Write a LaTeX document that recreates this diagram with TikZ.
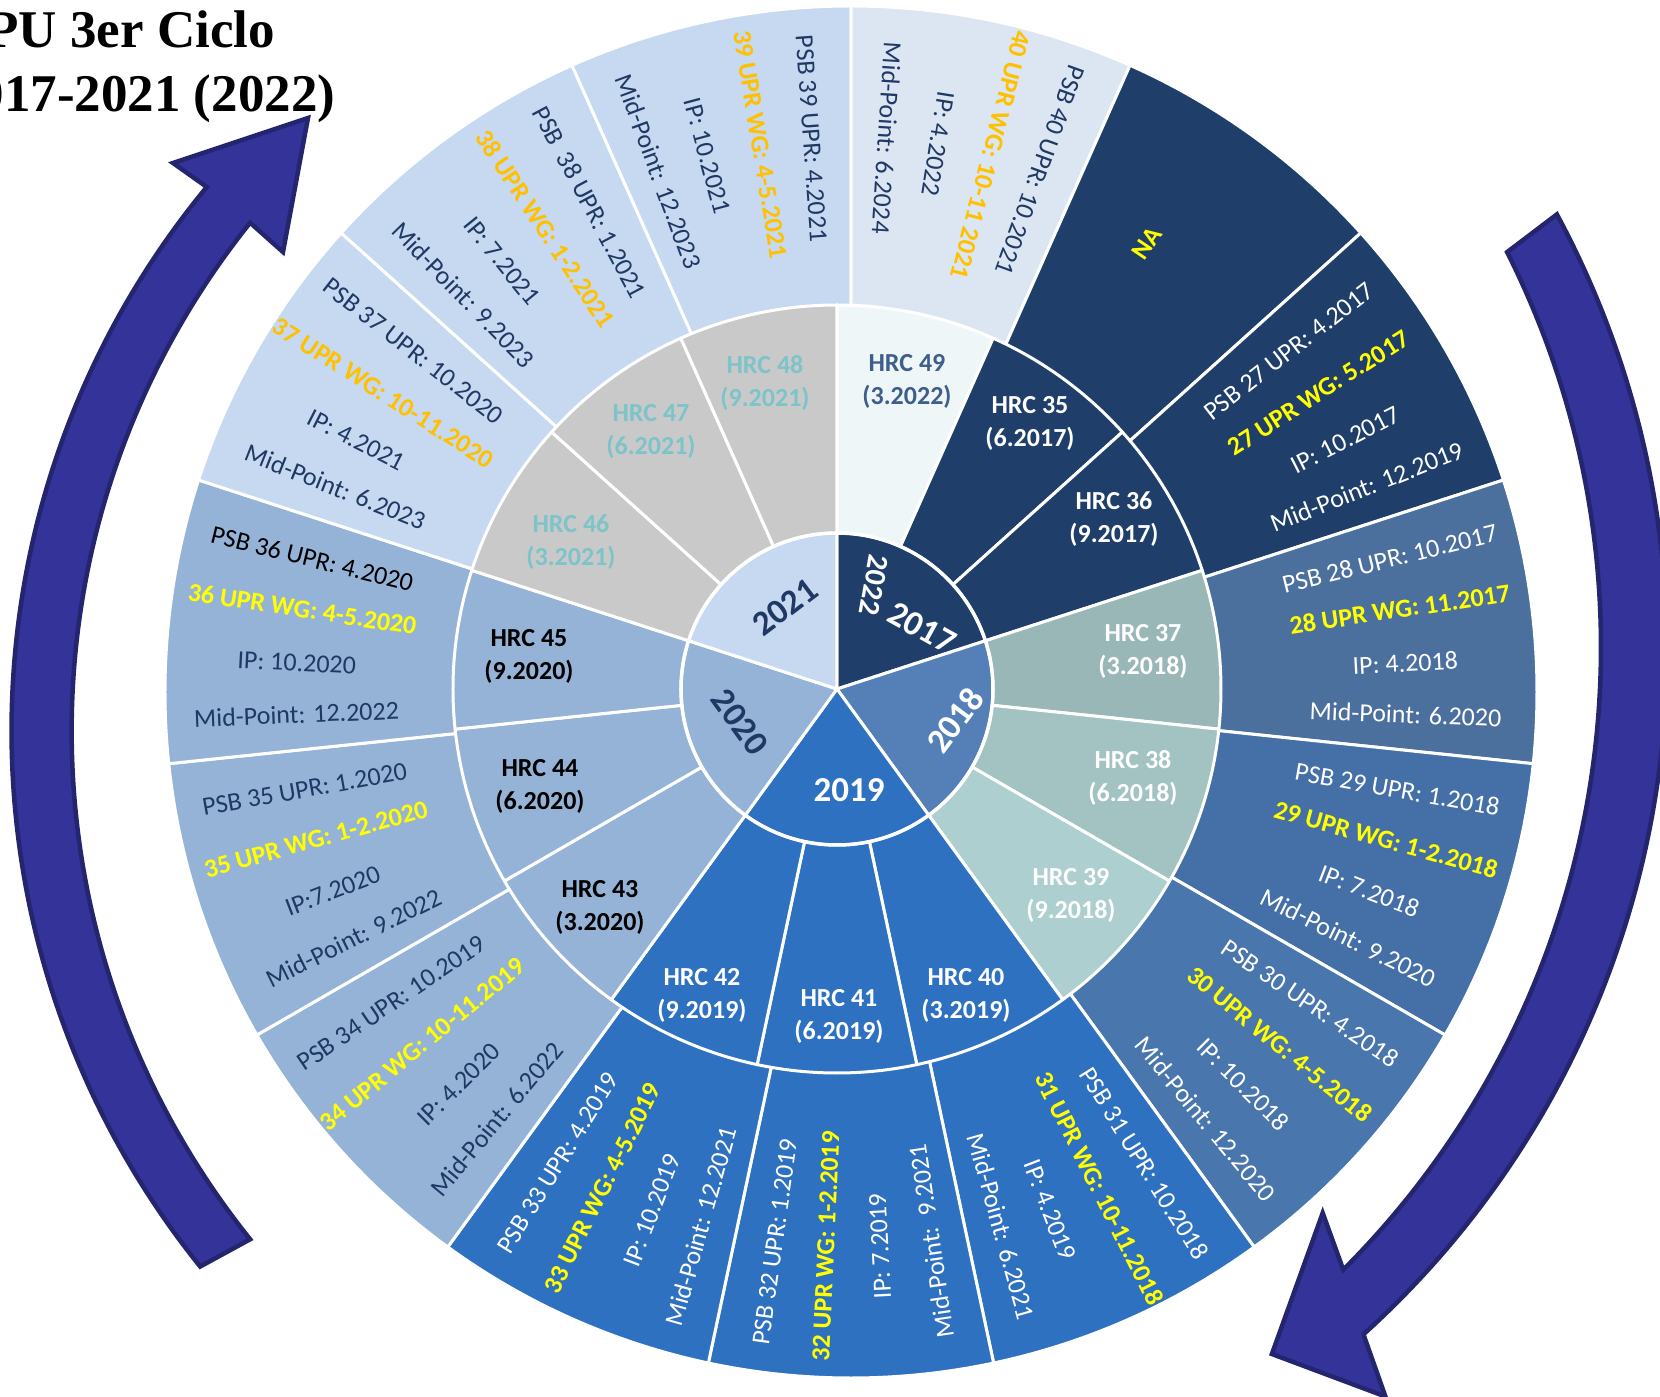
\documentclass[tikz,border=0pt]{standalone}
\usepackage{fontspec}
\setmainfont{Carlito}
\newfontfamily\titlefont{Liberation Serif}
\definecolor{navy}{HTML}{1F3F6A}
\definecolor{c28}{HTML}{4B709E}
\definecolor{c29}{HTML}{4470A7}
\definecolor{c30}{HTML}{4876AD}
\definecolor{yr18}{HTML}{5480B7}
\definecolor{blu}{HTML}{2F71C1}
\definecolor{h37}{HTML}{9AB7B7}
\definecolor{h38}{HTML}{A3C2C2}
\definecolor{h39}{HTML}{AECFCF}
\definecolor{stl}{HTML}{95B3D7}
\definecolor{lb}{HTML}{C6D9F0}
\definecolor{gry}{HTML}{C9C9C9}
\definecolor{h49}{HTML}{EFF6F8}
\definecolor{c40}{HTML}{DCE6F2}
\definecolor{dtext}{HTML}{1F3864}
\definecolor{orng}{HTML}{FFC000}
\definecolor{yel}{HTML}{FFFF00}
\definecolor{hteal}{HTML}{7CC4C9}
\definecolor{h49t}{HTML}{3E5F8E}
\definecolor{afill}{HTML}{333399}
\definecolor{aline}{HTML}{25256F}
\tikzset{
  otext/.style={font=\fontsize{26}{30}\selectfont, inner sep=0pt},
  owg/.style={font=\bfseries\fontsize{26}{30}\selectfont, inner sep=0pt},
  hrc/.style={font=\bfseries\fontsize{26}{33}\selectfont, align=center, inner sep=0pt},
  yr/.style={font=\bfseries\fontsize{35}{40}\selectfont, inner sep=0pt},
  sep/.style={draw=white, line width=3pt, line join=round},
  arrowsh/.style={fill=afill, draw=aline, line width=4.5pt, line join=miter},
  ttl/.style={font=\titlefont\bfseries\fontsize{53}{60}\selectfont, inner sep=0pt, anchor=base east}
}
% wedge: centre, start, end, radius, colour
\newcommand\wdg[5]{\filldraw[sep, fill=#5] (#1) -- ++(#2:#4) arc[start angle=#2, end angle=#3, radius=#4] -- cycle;}
% outer segment text: mid, sign, l1, l2, l3, l4, colour, wg colour, name
\newcommand\seg[9]{%
  \pgfmathsetmacro\pa{#1+#2*(-7.9)}%
  \pgfmathsetmacro\pb{#1+#2*(-2.6)}%
  \pgfmathsetmacro\pc{#1+#2*(3.0)}%
  \pgfmathsetmacro\pd{#1+#2*(8.3)}%
  \pgfmathsetmacro\ad{#2>0 ? 180 : 0}%
  \pgfmathsetmacro\ra{\pa+\ad}%
  \pgfmathsetmacro\rb{\pb+\ad}%
  \pgfmathsetmacro\rc{\pc+\ad}%
  \pgfmathsetmacro\rd{\pd+\ad}%
  \path (Co) ++(\pa:555) node[otext, text=#7, rotate=\ra] (#9a) {#3};
  \path (Co) ++(\pb:555) node[owg, text=#8, rotate=\rb] (#9b) {#4};
  \path (Co) ++(\pc:555) node[otext, text=#7, rotate=\rc] (#9c) {#5};
  \path (Co) ++(\pd:555) node[otext, text=#7, rotate=\rd] (#9d) {#6};
}
\begin{document}
\begin{tikzpicture}[x=1pt, y=1pt]
\useasboundingbox (-837,-708) rectangle (823,689);
\coordinate (C) at (0,0);
\coordinate (Co) at (14,-3);
\coordinate (LO) at (29.5,-41.8);
\coordinate (LI) at (47.6,-42);
\coordinate (RO) at (-91,38);
\coordinate (RI) at (-116,41.5);

% outer ring
\wdg{Co}{66}{90}{686}{c40}
\wdg{Co}{42}{66}{686}{navy}
\wdg{Co}{18}{42}{686}{navy}
\wdg{Co}{-6}{18}{686}{c28}
\wdg{Co}{-30}{-6}{686}{c29}
\wdg{Co}{-54}{-30}{686}{c30}
\wdg{Co}{-78}{-54}{686}{blu}
\wdg{Co}{-102}{-78}{686}{blu}
\wdg{Co}{-126}{-102}{686}{blu}
\wdg{Co}{-150}{-126}{686}{stl}
\wdg{Co}{-174}{-150}{686}{stl}
\wdg{Co}{-198}{-174}{686}{stl}
\wdg{Co}{138}{162}{686}{lb}
\wdg{Co}{114}{138}{686}{lb}
\wdg{Co}{90}{114}{686}{lb}

% middle ring
\wdg{C}{66}{90}{384}{h49}
\wdg{C}{42}{66}{384}{navy}
\wdg{C}{18}{42}{384}{navy}
\wdg{C}{-6}{18}{384}{h37}
\wdg{C}{-30}{-6}{384}{h38}
\wdg{C}{-54}{-30}{384}{h39}
\wdg{C}{-78}{-54}{384}{blu}
\wdg{C}{-102}{-78}{384}{blu}
\wdg{C}{-126}{-102}{384}{blu}
\wdg{C}{-150}{-126}{384}{stl}
\wdg{C}{-174}{-150}{384}{stl}
\wdg{C}{-198}{-174}{384}{stl}
\wdg{C}{138}{162}{384}{gry}
\wdg{C}{114}{138}{384}{gry}
\wdg{C}{90}{114}{384}{gry}

% inner ring
\wdg{C}{18}{90}{156}{navy}
\wdg{C}{-54}{18}{156}{yr18}
\wdg{C}{-126}{-54}{156}{blu}
\wdg{C}{162}{234}{156}{stl}
\wdg{C}{90}{162}{156}{lb}
\draw[white, line width=3.5pt] (C) circle[radius=156];

% outer texts
\seg{78}{1}{PSB 40 UPR: 10.2021}{40 UPR WG: 10-11 2021}{IP: 4.2022}{Mid-Point: 6.2024}{dtext}{orng}{s40}
\seg{30}{-1}{PSB 27 UPR: 4.2017}{27 UPR WG: 5.2017}{IP: 10.2017}{Mid-Point: 12.2019}{white}{yel}{s27}
\seg{6}{-1}{PSB 28 UPR: 10.2017}{28 UPR WG: 11.2017}{IP: 4.2018}{Mid-Point: 6.2020}{white}{yel}{s28}
\seg{-18}{-1}{PSB 29 UPR: 1.2018}{29 UPR WG: 1-2.2018}{IP: 7.2018}{Mid-Point: 9.2020}{white}{yel}{s29}
\seg{-42}{-1}{PSB 30 UPR: 4.2018}{30 UPR WG: 4-5.2018}{IP: 10.2018}{Mid-Point: 12.2020}{white}{yel}{s30}
\seg{-66}{-1}{PSB 31 UPR: 10.2018}{31 UPR WG: 10-11.2018}{IP: 4.2019}{Mid-Point: 6.2021}{white}{yel}{s31}
\seg{-90}{1}{PSB 32 UPR: 1.2019}{32 UPR WG: 1-2.2019}{IP: 7.2019}{Mid-Point:\ \ 9.2021}{white}{yel}{s32}
\seg{-114}{1}{PSB 33 UPR: 4.2019}{33 UPR WG: 4-5.2019}{IP: 10.2019}{Mid-Point: 12.2021}{white}{yel}{s33}
\seg{-138}{1}{PSB 34 UPR: 10.2019}{34 UPR WG: 10-11.2019}{IP: 4.2020}{Mid-Point: 6.2022}{dtext}{yel}{s34}
\seg{-162}{1}{PSB 35 UPR: 1.2020}{35 UPR WG: 1-2.2020}{IP:7.2020}{Mid-Point: 9.2022}{dtext}{yel}{s35}
\seg{174}{1}{\color{black}PSB 36 UPR: 4.2020}{36 UPR WG: 4-5.2020}{IP: 10.2020}{Mid-Point: 12.2022}{dtext}{yel}{s36}
\seg{150}{1}{PSB 37 UPR: 10.2020}{37 UPR WG: 10-11.2020}{IP: 4.2021}{Mid-Point: 6.2023}{dtext}{orng}{s37}
\seg{126}{1}{PSB\ \ 38 UPR: 1.2021}{38 UPR WG: 1-2.2021}{IP: 7.2021}{Mid-Point: 9.2023}{dtext}{orng}{s38}
\seg{102}{1}{PSB 39 UPR: 4.2021}{39 UPR WG: 4-5.2021}{IP: 10.2021}{Mid-Point: 12.2023}{dtext}{orng}{s39}
\node[owg, text=yel, rotate=56] (na) at (310,446) {NA};

% middle ring labels
\node[hrc, text=h49t] (h49) at (70,308) {HRC 49\\(3.2022)};
\node[hrc, text=white] (h35) at (193,266) {HRC 35\\(6.2017)};
\node[hrc, text=white] (h36) at (277,170) {HRC 36\\(9.2017)};
\node[hrc, text=white] (h37) at (306,38) {HRC 37\\(3.2018)};
\node[hrc, text=white] (h38) at (296,-89) {HRC 38\\(6.2018)};
\node[hrc, text=white] (h39) at (234,-206) {HRC 39\\(9.2018)};
\node[hrc, text=white] (h40) at (129,-306) {HRC 40\\(3.2019)};
\node[hrc, text=white] (h41) at (2,-327) {HRC 41\\(6.2019)};
\node[hrc, text=white] (h42) at (-135,-306) {HRC 42\\(9.2019)};
\node[hrc, text=black] (h43) at (-237,-218) {HRC 43\\(3.2020)};
\node[hrc, text=black] (h44) at (-297,-97) {HRC 44\\(6.2020)};
\node[hrc, text=black] (h45) at (-308,33) {HRC 45\\(9.2020)};
\node[hrc, text=hteal] (h46) at (-266,147) {HRC 46\\(3.2021)};
\node[hrc, text=hteal] (h47) at (-186,258) {HRC 47\\(6.2021)};
\node[hrc, text=hteal] (h48) at (-72,306) {HRC 48\\(9.2021)};

% year labels
\node[yr, text=dtext, rotate=37] (y21) at (-52,82) {2021};
\node[yr, text=white, rotate=-29] (y17) at (85,61) {2017};
\node[yr, text=white, rotate=-100, font=\bfseries\fontsize{30}{34}\selectfont] (y22) at (37,104) {2022};
\node[yr, text=white, rotate=53] (y18) at (118,-31) {2018};
\node[yr, text=white] (y19) at (12,-101) {2019};
\node[yr, text=dtext, rotate=-54] (y20) at (-97,-33) {2020};

% arrows
\filldraw[arrowsh] ([shift={(218.8:855)}]LO) arc[start angle=218.8, end angle=140.5, radius=855]
  -- (-664,526) -- (-529,571) -- (-554,437)
  -- ([shift={(141.3:813)}]LI) arc[start angle=141.3, end angle=218.7, radius=813] -- cycle;
\filldraw[arrowsh] ([shift={(28.3:921)}]RO) arc[start angle=28.3, end angle=-47.9, radius=921]
  -- (548.4,-707.5) -- (434.9,-665) -- (485.7,-524)
  -- ([shift={(-45:880)}]RI) arc[start angle=-45, end angle=26.7, radius=880] -- cycle;

% title
\node[ttl] (t1) at (-562,641.3) {EPU 3er Ciclo};
\node[ttl] (t2) at (-501.5,577.3) {2017-2021 (2022)};
\end{tikzpicture}
\end{document}
